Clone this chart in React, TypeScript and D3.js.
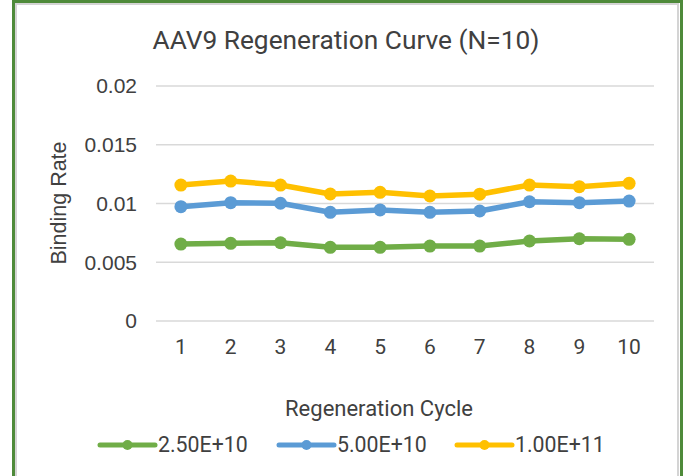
import React, { useEffect, useRef } from 'react';
import * as d3 from 'd3';

const cycles = ['1', '2', '3', '4', '5', '6', '7', '8', '9', '10'];
const low = [0.00655, 0.00661, 0.00666, 0.00627, 0.00627, 0.00638, 0.00638, 0.00681, 0.00700, 0.00695];
const mid = [0.00973, 0.01007, 0.01002, 0.00925, 0.00945, 0.00925, 0.00936, 0.01015, 0.01007, 0.01021];
const high = [0.01157, 0.01191, 0.01157, 0.01081, 0.01095, 0.01064, 0.01079, 0.01157, 0.01143, 0.01172];
const seriesNames = ['2.50E+10', '5.00E+10', '1.00E+11'];
const yTicks = [0, 0.005, 0.01, 0.015, 0.02];
const yTickLabels = ['0', '0.005', '0.01', '0.015', '0.02'];

const App = () => {
    const svgRef = useRef(null);

    useEffect(() => {
        const width = 688;
        const height = 476;
        const svg = d3.select(svgRef.current);
        svg.selectAll('*').remove();

        const font = 'Roboto, sans-serif';
        const axisFont = '"Liberation Sans", Arial, sans-serif';
        const textColor = '#404040';
        const colors = ['#70AD47', '#5B9BD5', '#FFC000'];
        const series = [low, mid, high];

        svg.append('rect').attr('width', width).attr('height', height).attr('fill', '#fff');

        // frame
        svg.append('rect')
            .attr('x', 16).attr('y', 4).attr('width', 662).attr('height', 490)
            .attr('fill', 'none').attr('stroke', '#d4d4d4').attr('stroke-width', 2);
        svg.append('rect')
            .attr('x', 13.5).attr('y', 1.5).attr('width', 668).attr('height', 500)
            .attr('fill', 'none').attr('stroke', '#4E8A3A').attr('stroke-width', 3);

        const x = d3.scaleBand().domain(cycles).range([156, 654]);
        const y = d3.scaleLinear().domain([0, 0.02]).range([321, 86]);

        // gridlines
        svg.append('g').selectAll('line')
            .data(yTicks)
            .enter()
            .append('line')
            .attr('x1', 156).attr('x2', 654)
            .attr('y1', d => y(d)).attr('y2', d => y(d))
            .attr('stroke', '#d9d9d9').attr('stroke-width', 1.5);

        // y tick labels
        svg.append('g').selectAll('text')
            .data(yTicks)
            .enter()
            .append('text')
            .attr('x', 137)
            .attr('y', d => y(d))
            .attr('dy', '0.35em')
            .attr('text-anchor', 'end')
            .attr('font-family', axisFont).attr('font-size', 21).attr('fill', textColor)
            .text((d, i) => yTickLabels[i]);

        // x tick labels
        svg.append('g').selectAll('text')
            .data(cycles)
            .enter()
            .append('text')
            .attr('x', d => x(d) + x.bandwidth() / 2)
            .attr('y', 347)
            .attr('dy', '0.35em')
            .attr('text-anchor', 'middle')
            .attr('font-family', font).attr('font-size', 21).attr('fill', textColor)
            .text(d => d);

        // title
        svg.append('text')
            .attr('x', 346).attr('y', 40).attr('dy', '0.35em')
            .attr('text-anchor', 'middle')
            .attr('font-family', font).attr('font-size', 26.3).attr('fill', textColor)
            .text('AAV9 Regeneration Curve (N=10)');

        // axis titles
        svg.append('text')
            .attr('transform', 'translate(58,203) rotate(-90)')
            .attr('dy', '0.35em')
            .attr('text-anchor', 'middle')
            .attr('font-family', axisFont).attr('font-size', 21.5).attr('fill', textColor)
            .text('Binding Rate');
        svg.append('text')
            .attr('x', 379).attr('y', 408).attr('dy', '0.35em')
            .attr('text-anchor', 'middle')
            .attr('font-family', font).attr('font-size', 22).attr('fill', textColor)
            .text('Regeneration Cycle');

        // lines + markers
        const line = d3.line()
            .x((d, i) => x(cycles[i]) + x.bandwidth() / 2)
            .y(d => y(d));

        series.forEach((vals, s) => {
            svg.append('path')
                .datum(vals)
                .attr('d', line)
                .attr('fill', 'none')
                .attr('stroke', colors[s])
                .attr('stroke-width', 5.5)
                .attr('stroke-linejoin', 'round');
            svg.append('g').selectAll('circle')
                .data(vals)
                .enter()
                .append('circle')
                .attr('cx', (d, i) => x(cycles[i]) + x.bandwidth() / 2)
                .attr('cy', d => y(d))
                .attr('r', 6.5)
                .attr('fill', colors[s]);
        });

        // legend
        const legendX = [100, 279, 457];
        const lg = svg.append('g').selectAll('g')
            .data(seriesNames)
            .enter()
            .append('g')
            .attr('transform', (d, i) => `translate(${legendX[i]},445)`);
        lg.append('line')
            .attr('x1', 0).attr('x2', 55).attr('y1', 0).attr('y2', 0)
            .attr('stroke', (d, i) => colors[i]).attr('stroke-width', 5)
            .attr('stroke-linecap', 'round');
        lg.append('circle')
            .attr('cx', 27.5).attr('cy', 0).attr('r', 5)
            .attr('fill', (d, i) => colors[i]);
        lg.append('text')
            .attr('x', 58).attr('y', 0).attr('dy', '0.35em')
            .attr('font-family', font).attr('font-size', 21.3).attr('fill', textColor)
            .text(d => d);
    }, []);

    return (
        <div style={{ position: 'absolute', left: 0, top: 0, width: 688, height: 476, overflow: 'hidden' }}>
            <svg ref={svgRef} width={688} height={476} style={{ display: 'block' }}></svg>
        </div>
    );
};

export default App;
